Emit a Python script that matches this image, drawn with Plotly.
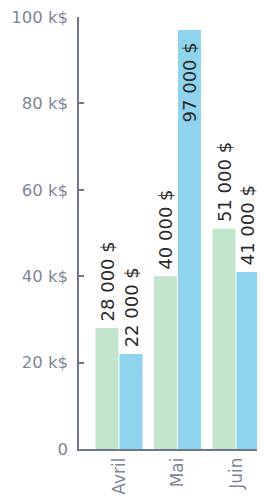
import plotly.graph_objects as go

months = ["Avril", "Mai", "Juin"]
series_a = [28000, 40000, 51000]
series_b = [22000, 97000, 41000]
y_tick_vals = [0, 20000, 40000, 60000, 80000, 100000]
y_tick_text = ["0", "20 k$", "40 k$", "60 k$", "80 k$", "100 k$"]

def fmt(v):
    return f"{v:,}".replace(",", " ") + " $"

green = "#c3e5cc"
blue = "#8fd4ee"
axis_col = "#6e7789"
tick_col = "#7e8797"
FONT = "DejaVu Sans"

def label_outside(v):
    return "\u202f" + fmt(v)

def label_inside(v):
    return fmt(v) + "\u00a0\u202f"

fig = go.Figure()
fig.add_trace(go.Bar(
    x=months, y=series_a, marker_color=green, marker_line_width=0,
    text=[label_outside(v) for v in series_a], textposition="outside", textangle=-90,
    textfont=dict(size=18, color="#2a2a2a", family=FONT),
    constraintext="none", cliponaxis=False,
))
pos_b = ["inside" if v > 90000 else "outside" for v in series_b]
fig.add_trace(go.Bar(
    x=months, y=series_b, marker_color=blue, marker_line_width=0,
    text=[label_inside(v) if p == "inside" else label_outside(v) for v, p in zip(series_b, pos_b)],
    textposition=pos_b, textangle=-90,
    insidetextanchor="end",
    textfont=dict(size=18, color="#2a2a2a", family=FONT),
    constraintext="none", cliponaxis=False,
))
# the page body adds an 8px offset, so the figure is sized to fill the rest
fig.update_layout(
    width=257, height=491,
    margin=dict(l=71, r=0, t=9, b=50, autoexpand=False),
    barmode="group", bargap=0.18, bargroupgap=0.04,
    showlegend=False,
    plot_bgcolor="white", paper_bgcolor="white",
    font=dict(family=FONT, size=16, color=tick_col),
)
fig.update_xaxes(
    range=[-0.684, 2.496], showgrid=False, showline=True, linecolor=axis_col,
    linewidth=1.5, ticks="", tickangle=-90,
    tickfont=dict(size=17, color=tick_col, family=FONT),
    fixedrange=True, automargin=False, ticklabeloverflow="allow",
)
fig.update_yaxes(
    range=[0, 100000], tickvals=y_tick_vals, ticktext=y_tick_text,
    showgrid=False, zeroline=False, showline=True, linecolor=axis_col, linewidth=1.5,
    ticks="inside", ticklen=5, tickcolor=axis_col, tickwidth=1.5,
    ticklabelstandoff=6, tickfont=dict(size=16.5, color=tick_col, family=FONT),
    fixedrange=True, automargin=False, ticklabeloverflow="allow",
)
fig.write_html("out.html", config={"displayModeBar": False})
